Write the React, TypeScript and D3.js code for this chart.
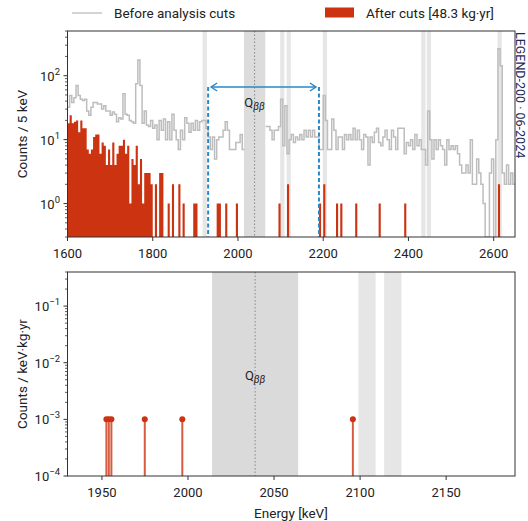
import React from 'react';
import * as d3 from 'd3';

// 5 keV bins from 1600 keV, counts per bin (null = blinded window)
const binStart = 1600;
const binWidth = 5;
const beforeCuts: (number | null)[] = [
  32, 49, 38, 45, 70, 49, 43, 41, 43, 28, 24, 32, 38, 38, 36, 36, 30, 34, 28, 28,
  24, 27, 25, 19, 22, 21, 52, 25, 24, 20, 19, 18, 75, 176, 70, 18, 28, 17, 16, 20,
  15, 17, 10, 20, 14, 21, 10, 19, 10, 25, 14, 10, 7, 14, 10, 22, 18, 13, 18, 14,
  20, 14, 19, 20, 20, 15, 11, 7, 11, 5, 10, 11, 11, 14, 19, 14, 7, 7, 7, 9,
  9, 12, 7, null, null, null, null, null, null, null, null, null, null, 16, 16, 14, 10, 14, 14, 16,
  43, 8, 34, 6, 10, 12, 9, 11, 10, 12, 10, 14, 11, 14, 11, 14, 11, 11, 7, 7,
  49, 20, 7, 7, 21, 14, 7, 11, 11, 7, 12, 10, 12, 10, 15, 10, 14, 10, 7, 12,
  11, 4, 11, 9, 13, 15, 9, 8, 11, 14, 10, 7, 14, 11, 7, 15, 15, 15, 6, 9,
  8, 10, 7, 12, 8, 10, 7, 7, 4, 28, 10, 5, 10, 7, 10, 8, 7, 4, 10, 7,
  8, 7, 8, 6, 4, 3, 3, 4, 3, 10, 2, 2, 5, 3, 2, 1, 0, 0, 3, 5,
  0, 10, 265, 143, 3, 2, 4, 2, 3, 2,
];
const afterCuts: number[] = [
  18, 24, 18, 19, 20, 13, 20, 15, 15, 7, 6, 7, 11, 12, 12, 6, 9, 8, 4, 7,
  4, 9, 4, 6, 8, 8, 10, 6, 8, 1, 5, 4, 8, 2, 5, 1, 3, 3, 3, 2,
  0, 2, 0, 3, 3, 0, 0, 1, 0, 2, 0, 0, 2, 0, 1, 0, 0, 0, 0, 1,
  1, 0, 0, 0, 0, 0, 0, 0, 0, 0, 1, 1, 0, 0, 1, 0, 0, 0, 0, 1,
  0, 0, 0, 0, 0, 0, 0, 0, 0, 0, 0, 0, 0, 0, 0, 0, 0, 0, 0, 1,
  0, 0, 0, 2, 0, 0, 0, 0, 0, 0, 0, 0, 0, 0, 0, 0, 0, 0, 1, 0,
  2, 0, 0, 0, 0, 0, 1, 0, 1, 0, 0, 0, 0, 0, 0, 1, 0, 0, 0, 0,
  0, 0, 0, 0, 0, 0, 1, 0, 0, 0, 0, 0, 0, 0, 0, 0, 0, 0, 1, 0,
  0, 0, 0, 0, 0, 0, 0, 0, 0, 0, 0, 0, 0, 0, 0, 0, 0, 0, 0, 0,
  0, 0, 0, 0, 0, 0, 0, 0, 0, 0, 0, 0, 0, 0, 0, 0, 0, 0, 0, 0,
  0, 0, 2, 0, 0, 0, 0, 0, 0, 0,
];

// events in the analysis window (bottom panel)
const eventEnergies = [1952.6, 1954.0, 1955.5, 1974.9, 1996.7, 2095.8];
const eventLevels = [1e-3, 1e-3, 1e-3, 1e-3, 1e-3, 1e-3];

const qbb = 2039;
const blindWindow = [2014, 2064];
const topBands = [[1917, 1927], [2099, 2109], [2114, 2124], [2199, 2209], [2430, 2440], [2443, 2453], [2609, 2619]];
const bottomBands = [[2099, 2109], [2114, 2124]];
const windowEdges = [1930, 2190];

const topXTicks = [1600, 1800, 2000, 2200, 2400, 2600];
const topYTicks = [1, 10, 100];
const botXTicks = [1950, 2000, 2050, 2100, 2150];
const botYTicks = [1e-4, 1e-3, 1e-2, 1e-1];

const red = '#cc3311';
const blue = '#2a88c8';
const font = 'Roboto, sans-serif';

const left = 67.5, right = 515;
const xTop = d3.scaleLinear().domain([1600, 2650]).range([left, right]);
const yTop = d3.scaleLog().domain([0.3, 500]).range([237, 31]).clamp(true);
const xBot = d3.scaleLinear().domain([1930, 2190]).range([left, right]);
const yBot = d3.scaleLog().domain([1e-4, 0.4]).range([476, 272]).clamp(true);

function minorTicks(domain: number[]) {
  const out: number[] = [];
  for (let d = -5; d < 4; d++) {
    for (let k = 2; k < 10; k++) {
      const v = k * Math.pow(10, d);
      if (v >= domain[0] && v <= domain[1]) out.push(v);
    }
  }
  return out;
}

function Pow({ x, y, exp }: { x: number; y: number; exp: string }) {
  return (
    <text x={x} y={y} textAnchor="end" fontSize={13} fill="#222" fontFamily={font}>
      10<tspan dy={-6} fontSize={9.5}>{exp}</tspan>
    </text>
  );
}

function Qlabel({ x, y }: { x: number; y: number }) {
  return (
    <text x={x} y={y} textAnchor="middle" fontSize={13} fill="#222" fontFamily={font}>
      Q<tspan dy={3} fontSize={10} fontStyle="italic">ββ</tspan>
    </text>
  );
}

export default function App() {
  const stepPts: [number, number | null][] = [];
  beforeCuts.forEach((v, i) => {
    const e0 = binStart + i * binWidth;
    stepPts.push([e0, v], [e0 + binWidth, v]);
  });
  const greyLine = d3.line<[number, number | null]>()
    .defined((d) => d[1] !== null)
    .x((d) => xTop(d[0]))
    .y((d) => yTop(Math.max(d[1] as number, 0.01)))(stepPts) || '';

  const redPts: [number, number][] = [];
  afterCuts.forEach((v, i) => {
    const e0 = binStart + i * binWidth;
    redPts.push([e0, v], [e0 + binWidth, v]);
  });
  const redArea = d3.area<[number, number]>()
    .x((d) => xTop(d[0]))
    .y0(237)
    .y1((d) => yTop(Math.max(d[1], 0.01)))(redPts) || '';

  const arrowY = 87;
  const ax0 = xTop(windowEdges[0]) + 3, ax1 = xTop(windowEdges[1]) - 3;

  return (
    <svg width={528} height={521} style={{ position: 'absolute', left: 0, top: 0 }} fontFamily={font}>
      <defs>
        <clipPath id="clipTop"><rect x={left} y={31} width={right - left} height={206} /></clipPath>
        <clipPath id="clipBot"><rect x={left} y={272} width={right - left} height={204} /></clipPath>
      </defs>
      <rect width={528} height={521} fill="#fff" />

      {/* legend */}
      <line x1={72} x2={102} y1={13} y2={13} stroke="#c4c4c4" strokeWidth={1.5} />
      <text x={114} y={18} fontSize={13.5} fill="#222">Before analysis cuts</text>
      <rect x={325} y={7.5} width={29} height={10} fill={red} />
      <text x={366} y={18} fontSize={13.5} fill="#222">After cuts [48.3 kg·yr]</text>

      {/* top panel */}
      <g clipPath="url(#clipTop)">
        {topBands.map((b, i) => (
          <rect key={i} x={xTop(b[0])} y={31} width={xTop(b[1]) - xTop(b[0])} height={206} fill="#e6e6e6" />
        ))}
        <rect x={xTop(blindWindow[0])} y={31} width={xTop(blindWindow[1]) - xTop(blindWindow[0])} height={206} fill="#dcdcdc" />
        <path d={redArea} fill={red} />
        <path d={greyLine} fill="none" stroke="#bdbdbd" strokeWidth={1.5} />
        <line x1={xTop(qbb)} x2={xTop(qbb)} y1={31} y2={237} stroke="#888" strokeWidth={1} strokeDasharray="1.5,2" />
        {windowEdges.map((e) => (
          <line key={e} x1={xTop(e)} x2={xTop(e)} y1={arrowY} y2={237} stroke={blue} strokeWidth={2} strokeDasharray="4,2.5" />
        ))}
        <line x1={ax0} x2={ax1} y1={arrowY} y2={arrowY} stroke={blue} strokeWidth={1.5} />
        <path d={`M${ax0 + 6},${arrowY - 4}L${ax0},${arrowY}L${ax0 + 6},${arrowY + 4}`} fill="none" stroke={blue} strokeWidth={1.5} />
        <path d={`M${ax1 - 6},${arrowY - 4}L${ax1},${arrowY}L${ax1 - 6},${arrowY + 4}`} fill="none" stroke={blue} strokeWidth={1.5} />
      </g>
      <Qlabel x={xTop(qbb)} y={107} />
      <rect x={left} y={31} width={right - left} height={206} fill="none" stroke="#333" strokeWidth={1} />
      {topXTicks.map((t) => (
        <g key={t}>
          <line x1={xTop(t)} x2={xTop(t)} y1={237} y2={241} stroke="#333" />
          <text x={xTop(t)} y={258} textAnchor="middle" fontSize={13} fill="#222">{t}</text>
        </g>
      ))}
      {topYTicks.map((t) => (
        <g key={t}>
          <line x1={left - 4} x2={left} y1={yTop(t)} y2={yTop(t)} stroke="#333" />
          <Pow x={60} y={yTop(t) + 5} exp={String(Math.round(Math.log10(t)))} />
        </g>
      ))}
      {minorTicks([0.3, 500]).map((t) => (
        <line key={t} x1={left - 2.5} x2={left} y1={yTop(t)} y2={yTop(t)} stroke="#333" strokeWidth={0.8} />
      ))}
      <text transform="translate(27,134) rotate(-90)" textAnchor="middle" fontSize={13.5} fill="#222">Counts / 5 keV</text>
      <text transform="translate(516,32) rotate(90)" fontSize={12.5} fill="#1b2a57">LEGEND-200 · 06-2024</text>

      {/* bottom panel */}
      <g clipPath="url(#clipBot)">
        <rect x={xBot(blindWindow[0])} y={272} width={xBot(blindWindow[1]) - xBot(blindWindow[0])} height={204} fill="#dadada" />
        {bottomBands.map((b, i) => (
          <rect key={i} x={xBot(b[0])} y={272} width={xBot(b[1]) - xBot(b[0])} height={204} fill="#e6e6e6" />
        ))}
        <line x1={xBot(qbb)} x2={xBot(qbb)} y1={272} y2={476} stroke="#888" strokeWidth={1} strokeDasharray="1.5,2" />
        {eventEnergies.map((e, i) => (
          <g key={i}>
            <line x1={xBot(e)} x2={xBot(e)} y1={476} y2={yBot(eventLevels[i])} stroke={red} strokeOpacity={0.8} strokeWidth={2} />
            <circle cx={xBot(e)} cy={yBot(eventLevels[i])} r={3} fill={red} />
          </g>
        ))}
      </g>
      <Qlabel x={xBot(qbb)} y={380} />
      <rect x={left} y={272} width={right - left} height={204} fill="none" stroke="#333" strokeWidth={1} />
      {botXTicks.map((t) => (
        <g key={t}>
          <line x1={xBot(t)} x2={xBot(t)} y1={476} y2={480} stroke="#333" />
          <text x={xBot(t)} y={497} textAnchor="middle" fontSize={13} fill="#222">{t}</text>
        </g>
      ))}
      {botYTicks.map((t) => (
        <g key={t}>
          <line x1={left - 4} x2={left} y1={yBot(t)} y2={yBot(t)} stroke="#333" />
          <Pow x={60} y={yBot(t) + 5} exp={'\u2212' + String(Math.round(-Math.log10(t)))} />
        </g>
      ))}
      {minorTicks([1e-4, 0.4]).map((t) => (
        <line key={t} x1={left - 2.5} x2={left} y1={yBot(t)} y2={yBot(t)} stroke="#333" strokeWidth={0.8} />
      ))}
      <text transform="translate(27,374) rotate(-90)" textAnchor="middle" fontSize={13.5} fill="#222">Counts / keV·kg·yr</text>
      <text x={291} y={518} textAnchor="middle" fontSize={13.5} fill="#222">Energy [keV]</text>
    </svg>
  );
}
